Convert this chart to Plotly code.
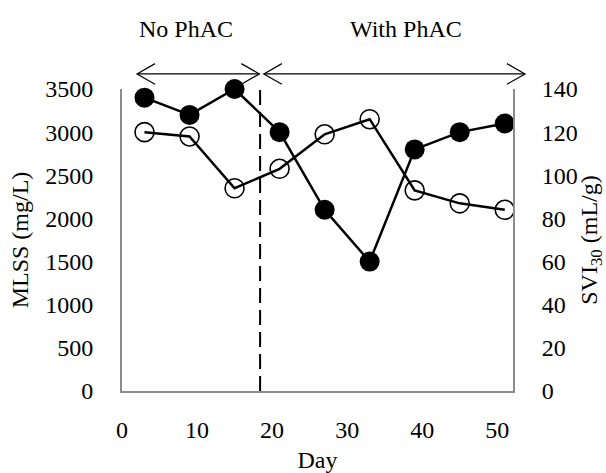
import plotly.graph_objects as go

days = [3, 9, 15, 21, 27, 33, 39, 45, 51]
mlss = [3400, 3200, 3500, 3000, 2100, 1500, 2800, 3000, 3100]
svi30 = [120, 118, 94, 103, 119, 126, 93, 87, 84]
x_ticks = [0, 10, 20, 30, 40, 50]
y_ticks = [0, 500, 1000, 1500, 2000, 2500, 3000, 3500]
y2_ticks = [0, 20, 40, 60, 80, 100, 120, 140]
phase_change_day = 18.4
phase_labels = ["No PhAC", "With PhAC"]
phase_spans = [(2.0, 18.3), (18.9, 53.7)]

FONT = "Liberation Serif"
FS = 24
AXIS_COLOR = "#8c8c8c"
X_MAX = 52.1

fig = go.Figure()
fig.add_trace(go.Scatter(
    x=days, y=svi30, yaxis="y2", mode="lines+markers", cliponaxis=False,
    line=dict(color="black", width=2.5),
    marker=dict(symbol="circle-open", size=19, color="black", line=dict(width=1.6)),
    showlegend=False,
))
fig.add_trace(go.Scatter(
    x=days, y=mlss, mode="lines+markers", cliponaxis=False,
    line=dict(color="black", width=2.5),
    marker=dict(symbol="circle", size=20, color="black"),
    showlegend=False,
))

# dashed phase boundary
fig.add_shape(type="line", xref="x", yref="paper", x0=phase_change_day, x1=phase_change_day,
              y0=0, y1=1.02, line=dict(color="black", width=2, dash="15px,7px"))

# phase arrows (paper coords so they are not clipped at the axis end)
head_dx = 2.4 / X_MAX
head_dy = 0.034
arrow_y = 1.05
for (a_day, b_day), label in zip(phase_spans, phase_labels):
    a, b = a_day / X_MAX, b_day / X_MAX
    fig.add_shape(type="line", xref="paper", yref="paper", x0=a, x1=b, y0=arrow_y, y1=arrow_y,
                  line=dict(color="black", width=1.2))
    fig.add_shape(type="path", xref="paper", yref="paper",
                  path=f"M {a+head_dx},{arrow_y+head_dy} L {a},{arrow_y} L {a+head_dx},{arrow_y-head_dy}",
                  line=dict(color="black", width=1.2))
    fig.add_shape(type="path", xref="paper", yref="paper",
                  path=f"M {b-head_dx},{arrow_y+head_dy} L {b},{arrow_y} L {b-head_dx},{arrow_y-head_dy}",
                  line=dict(color="black", width=1.2))

fig.add_annotation(x=8.5, y=1.199, xref="x", yref="paper", yanchor="middle", text=phase_labels[0],
                   showarrow=False, font=dict(family=FONT, size=FS, color="black"))
fig.add_annotation(x=37.9, y=1.199, xref="x", yref="paper", yanchor="middle", text=phase_labels[1],
                   showarrow=False, font=dict(family=FONT, size=FS, color="black"))

fig.update_layout(
    width=606, height=473,
    margin=dict(l=122, r=93, t=89, b=82, autoexpand=False),
    paper_bgcolor="white", plot_bgcolor="white",
    font=dict(family=FONT, size=FS, color="black"),
    xaxis=dict(range=[0, X_MAX], tickvals=x_ticks, showgrid=False, zeroline=False,
               showline=True, linecolor=AXIS_COLOR, linewidth=2, ticks="",
               ticklabelstandoff=16, automargin=False,
               title=dict(text="Day", standoff=13, font=dict(family=FONT, size=FS))),
    yaxis=dict(range=[0, 3500], tickvals=y_ticks, showgrid=False, zeroline=False,
               showline=True, linecolor=AXIS_COLOR, linewidth=2, ticks="",
               ticklabelstandoff=22, automargin=False,
               title=dict(text="MLSS (mg/L)", standoff=10, font=dict(family=FONT, size=FS))),
    yaxis2=dict(range=[0, 140], tickvals=y2_ticks, overlaying="y", side="right",
                showgrid=False, zeroline=False, automargin=False,
                showline=True, linecolor=AXIS_COLOR, linewidth=2, ticks="",
                ticklabelstandoff=22,
                title=dict(text="SVI<sub>30</sub> (mL/g)", standoff=8, font=dict(family=FONT, size=FS))),
)

fig.write_html("out.html", config={"displayModeBar": False},
               post_script="document.body.style.margin='0px';document.body.style.overflow='hidden';")
